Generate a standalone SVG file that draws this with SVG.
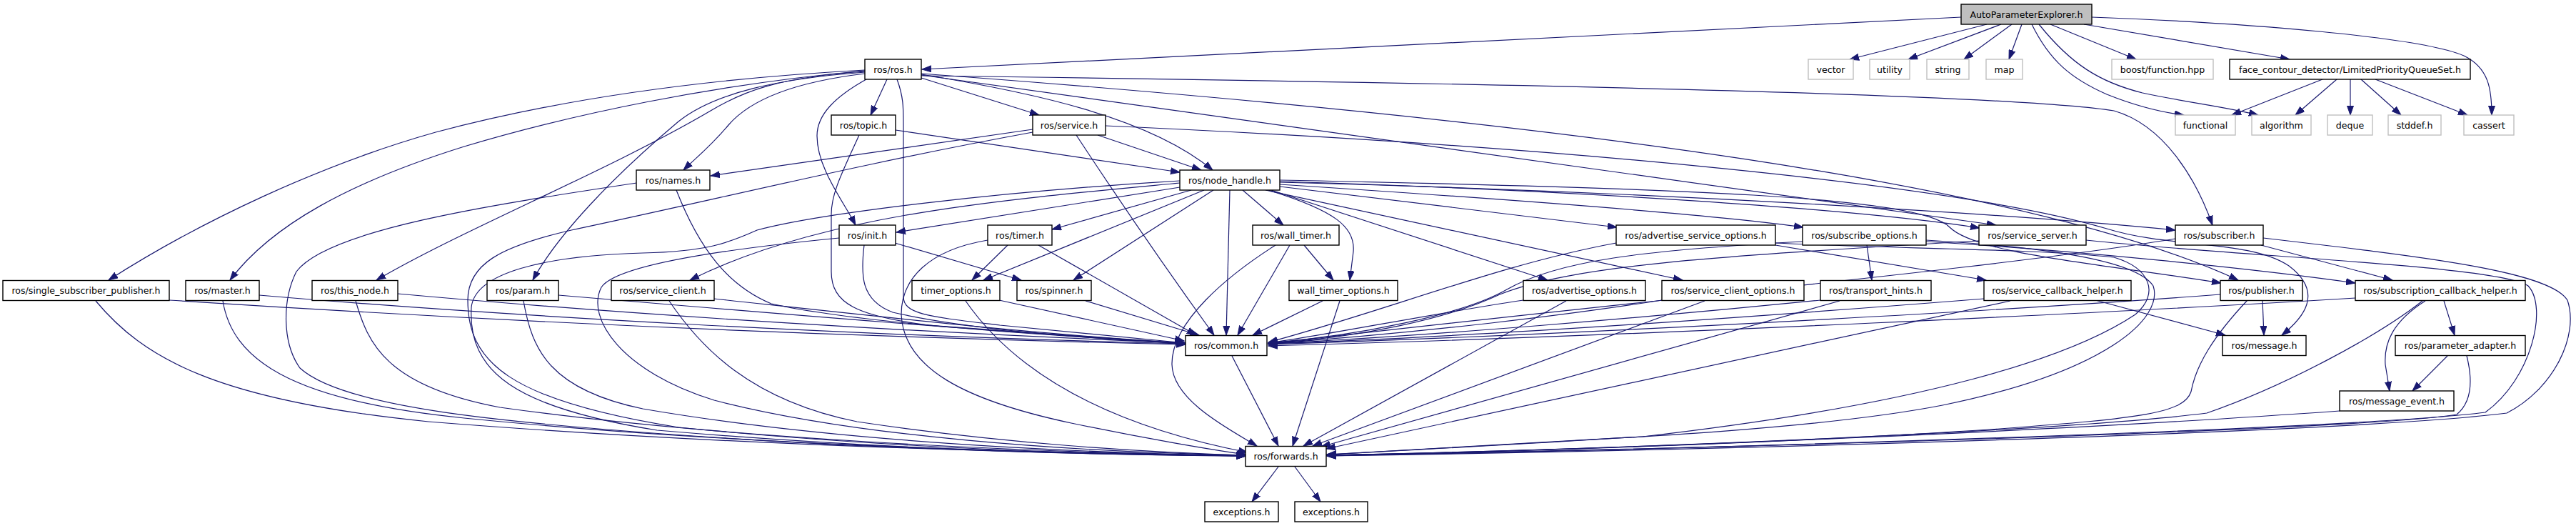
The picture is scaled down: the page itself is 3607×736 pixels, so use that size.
<svg xmlns="http://www.w3.org/2000/svg" width="3607" height="736" viewBox="0 0 3607 736">
<style>
.n rect{fill:#fff;stroke:#000;stroke-width:1.4}
.g rect{fill:#fff;stroke:#bfbfbf;stroke-width:1.4}
.r rect{fill:#bfbfbf;stroke:#000;stroke-width:1.4}
text{font-family:"DejaVu Sans",sans-serif;font-size:12.6px;text-anchor:middle;fill:#000}
#edges path{fill:none;stroke:#191970;stroke-width:1.2;marker-end:url(#a)}
</style>
<defs>
<marker id="a" markerUnits="userSpaceOnUse" markerWidth="14" markerHeight="10" viewBox="0 0 14 10" refX="13" refY="5" orient="auto">
<path d="M0,0.5 L13,5 L0,9.5 z" fill="#191970" stroke="#191970" stroke-width="1"/>
</marker>
</defs>
<rect x="0" y="0" width="3607" height="736" fill="#fff"/>
<g id="edges">
<path d="M2746,24 L1291,97"/>
<path d="M2782,34 L2590,83"/>
<path d="M2802,34 L2672,83"/>
<path d="M2817,34 L2750,83"/>
<path d="M2831,34 L2813,83"/>
<path d="M2871,34 L2991,83"/>
<path d="M2918,34 L3206,83"/>
<path d="M2929,24 C3150,32 3390,52 3450,78 C3485,95 3489,125 3489,161"/>
<path d="M2845,34 C2870,85 2900,110 2950,132 C2990,148 3025,157 3058,161"/>
<path d="M2855,34 C2900,90 2940,115 3000,130 C3060,143 3120,150 3162,161"/>
<path d="M3252,111 L3125,161"/>
<path d="M3272,111 L3214,161"/>
<path d="M3291,111 L3291,161"/>
<path d="M3306,111 L3362,161"/>
<path d="M3326,111 L3455,161"/>
<path d="M1242,111 L1219,161"/>
<path d="M1290,109 L1455,161"/>
<path d="M1290,104 C1450,130 1610,165 1698,238"/>
<path d="M1290,106 C2000,115 2800,130 2960,155 C3030,175 3075,250 3098,315"/>
<path d="M1290,103 C2200,170 2850,260 3134,392"/>
<path d="M1290,105 L2795,315"/>
<path d="M1256,111 C1265,135 1265,150 1265,175 L1265,415 C1265,440 1300,443 1400,455 L1660,480"/>
<path d="M1213,111 C1170,135 1144,160 1144,190 C1144,235 1180,280 1198,315"/>
<path d="M1211,103 C1110,115 1050,140 1020,175 C995,205 970,225 957,238"/>
<path d="M1211,101 C1090,110 1000,130 950,170 C855,250 780,330 746,392"/>
<path d="M1211,100 C1090,108 1040,128 995,155 C850,240 650,320 527,392"/>
<path d="M1211,98 C950,112 760,145 610,185 C450,230 280,310 152,392"/>
<path d="M1211,99 C1000,118 800,160 650,205 C490,255 380,315 322,392"/>
<path d="M1446,181 L995,246"/>
<path d="M1446,185 C1200,230 1000,280 800,322 C700,345 655,370 655,420 C655,505 710,560 950,598 C1250,628 1550,636 1744,638"/>
<path d="M1537,189 L1682,238"/>
<path d="M1507,189 C1580,300 1650,400 1700,469"/>
<path d="M1548,176 C2200,205 2750,260 2950,320 C3040,348 3150,335 3205,372 C3255,410 3225,445 3195,469"/>
<path d="M1254,182 L1652,241"/>
<path d="M1203,189 C1180,240 1164,270 1164,300 L1164,380 C1164,425 1200,442 1300,455 L1660,481"/>
<path d="M947,266 C980,350 1020,400 1080,425 C1200,452 1450,468 1660,481"/>
<path d="M891,256 C700,285 460,320 415,380 C395,420 395,480 420,515 C480,570 700,592 1000,612 C1300,632 1600,637 1744,638"/>
<path d="M1652,262 L1255,325"/>
<path d="M1668,266 L1473,321"/>
<path d="M1686,266 L1377,392"/>
<path d="M1699,266 L1503,392"/>
<path d="M1722,266 L1717,469"/>
<path d="M1740,266 L1797,315"/>
<path d="M1776,266 C1870,295 1898,318 1895,352 L1890,392"/>
<path d="M1780,266 L2167,392"/>
<path d="M1772,266 L2356,392"/>
<path d="M1792,261 L2264,318"/>
<path d="M1792,258 C2100,278 2400,300 2525,318"/>
<path d="M1792,254 C2200,266 2600,292 2772,319"/>
<path d="M1792,255 C2300,268 2800,298 3046,322"/>
<path d="M1792,252 C2350,263 2690,275 2730,318 C2768,356 2950,370 3110,396"/>
<path d="M1652,256 C1400,280 1150,300 966,392"/>
<path d="M1652,253 C1400,268 1150,298 1060,322 C1020,340 990,352 900,354 C760,358 665,382 660,430 C655,520 720,570 920,602 C1250,630 1550,637 1744,638"/>
<path d="M1253,340 L1430,392"/>
<path d="M1210,343 C1205,385 1205,420 1250,437 C1350,460 1500,472 1660,481"/>
<path d="M1175,333 C1000,350 862,372 842,402 C820,445 870,520 1000,560 C1200,612 1500,632 1744,637"/>
<path d="M1411,343 L1361,392"/>
<path d="M1454,343 L1675,469"/>
<path d="M1383,336 C1300,350 1262,390 1262,440 C1265,515 1350,560 1500,592 C1600,613 1700,630 1745,636"/>
<path d="M1826,343 L1867,392"/>
<path d="M1806,343 L1733,469"/>
<path d="M1786,343 C1720,385 1640,450 1641,510 C1642,560 1720,600 1760,624"/>
<path d="M237,420 C700,450 1200,472 1660,482"/>
<path d="M134,421 C200,500 300,560 600,590 C1000,622 1400,633 1744,638"/>
<path d="M363,413 C700,442 1200,470 1660,481"/>
<path d="M312,421 C325,500 400,560 650,585 C1000,620 1400,633 1744,638"/>
<path d="M557,411 C900,442 1300,466 1660,480"/>
<path d="M498,421 C515,480 540,540 700,570 C1000,612 1400,632 1744,638"/>
<path d="M782,413 C1100,440 1400,465 1660,480"/>
<path d="M733,421 C745,490 770,545 900,572 C1150,615 1450,632 1744,638"/>
<path d="M1000,418 C1250,445 1450,468 1660,480"/>
<path d="M937,421 C980,485 1050,560 1200,590 C1400,620 1600,633 1744,637"/>
<path d="M1399,420 L1658,477"/>
<path d="M1352,421 C1400,490 1500,585 1747,633"/>
<path d="M1520,421 L1679,469"/>
<path d="M1852,421 L1754,469"/>
<path d="M1876,421 L1810,624"/>
<path d="M2486,343 L2781,392"/>
<path d="M2263,340 C2100,370 1950,432 1776,479"/>
<path d="M2486,340 C2650,348 2850,348 2960,360 C3010,375 3025,410 2990,440 C2900,500 2700,565 2300,611 L1858,636"/>
<path d="M2614,343 L2621,392"/>
<path d="M2697,338 C2900,350 3150,375 3298,396"/>
<path d="M2524,338 C2300,350 2180,365 2110,405 C2050,440 1900,470 1776,480"/>
<path d="M2697,336 C2850,345 2990,362 3015,400 C3030,445 2950,520 2720,567 C2550,600 2300,612 1858,636"/>
<path d="M2771,337 C2400,358 2200,372 2100,412 C2030,445 1900,474 1776,480"/>
<path d="M2921,336 C3150,360 3500,372 3540,400 C3568,430 3545,530 3480,577 C3300,600 2400,628 1858,638"/>
<path d="M3166,343 L3350,392"/>
<path d="M3046,334 C2800,375 2300,420 1776,481"/>
<path d="M3169,333 C3400,360 3570,380 3595,420 C3612,470 3575,545 3510,578 C3300,605 2400,630 1858,638"/>
<path d="M2133,420 C2000,440 1850,470 1776,480"/>
<path d="M2193,421 L1825,624"/>
<path d="M2327,420 C2200,440 2000,465 1776,481"/>
<path d="M2387,421 L1838,624"/>
<path d="M2549,420 C2300,445 2000,470 1776,481"/>
<path d="M2576,421 L1850,625"/>
<path d="M2778,418 C2500,440 2100,470 1776,481"/>
<path d="M2815,421 L1857,628"/>
<path d="M2934,420 L3116,469"/>
<path d="M3168,420 L3170,469"/>
<path d="M3109,412 C2900,428 2300,465 1776,482"/>
<path d="M3147,420 C3100,470 3075,510 3068,548 C3058,578 3000,585 2800,600 C2500,620 2100,633 1858,637"/>
<path d="M3298,417 C3000,435 2300,470 1776,484"/>
<path d="M3392,421 C3330,470 3200,540 3090,578 C2900,602 2300,628 1858,637"/>
<path d="M3396,421 C3350,450 3338,480 3340,510 L3346,547"/>
<path d="M3422,421 L3437,469"/>
<path d="M3427,498 L3378,547"/>
<path d="M3454,498 C3462,530 3462,562 3440,580 C3300,602 2400,628 1858,637"/>
<path d="M3276,575 C2900,602 2300,628 1858,637"/>
<path d="M1725,498 L1790,624"/>
<path d="M1790,653 L1753,702"/>
<path d="M1813,653 L1849,702"/>
</g>
<g id="n_root" class="r"><rect x="2746" y="6" width="183" height="28"/><text x="2837.5" y="24.5">AutoParameterExplorer.h</text></g>
<g id="n_ros" class="n"><rect x="1211" y="83" width="79" height="28"/><text x="1250.5" y="101.5">ros/ros.h</text></g>
<g id="n_vector" class="g"><rect x="2532" y="83" width="63" height="28"/><text x="2563.5" y="101.5">vector</text></g>
<g id="n_utility" class="g"><rect x="2618" y="83" width="56" height="28"/><text x="2646" y="101.5">utility</text></g>
<g id="n_string" class="g"><rect x="2698" y="83" width="59" height="28"/><text x="2727.5" y="101.5">string</text></g>
<g id="n_map" class="g"><rect x="2781" y="83" width="51" height="28"/><text x="2806.5" y="101.5">map</text></g>
<g id="n_boost" class="g"><rect x="2957" y="83" width="142" height="28"/><text x="3028" y="101.5">boost/function.hpp</text></g>
<g id="n_face" class="n"><rect x="3122" y="83" width="337" height="28"/><text x="3290.5" y="101.5">face_contour_detector/LimitedPriorityQueueSet.h</text></g>
<g id="n_topic" class="n"><rect x="1164" y="161" width="90" height="28"/><text x="1209" y="179.5">ros/topic.h</text></g>
<g id="n_service" class="n"><rect x="1446" y="161" width="102" height="28"/><text x="1497" y="179.5">ros/service.h</text></g>
<g id="n_functional" class="g"><rect x="3046" y="161" width="84" height="28"/><text x="3088" y="179.5">functional</text></g>
<g id="n_algorithm" class="g"><rect x="3153" y="161" width="83" height="28"/><text x="3194.5" y="179.5">algorithm</text></g>
<g id="n_deque" class="g"><rect x="3259" y="161" width="63" height="28"/><text x="3290.5" y="179.5">deque</text></g>
<g id="n_stddef" class="g"><rect x="3344" y="161" width="74" height="28"/><text x="3381" y="179.5">stddef.h</text></g>
<g id="n_cassert" class="g"><rect x="3450" y="161" width="70" height="28"/><text x="3485" y="179.5">cassert</text></g>
<g id="n_names" class="n"><rect x="891" y="238" width="103" height="28"/><text x="942.5" y="256.5">ros/names.h</text></g>
<g id="n_node_handle" class="n"><rect x="1652" y="238" width="140" height="28"/><text x="1722" y="256.5">ros/node_handle.h</text></g>
<g id="n_init" class="n"><rect x="1175" y="315" width="79" height="28"/><text x="1214.5" y="333.5">ros/init.h</text></g>
<g id="n_timer" class="n"><rect x="1383" y="315" width="90" height="28"/><text x="1428" y="333.5">ros/timer.h</text></g>
<g id="n_wall_timer" class="n"><rect x="1754" y="315" width="121" height="28"/><text x="1814.5" y="333.5">ros/wall_timer.h</text></g>
<g id="n_aso" class="n"><rect x="2263" y="315" width="223" height="28"/><text x="2374.5" y="333.5">ros/advertise_service_options.h</text></g>
<g id="n_subopt" class="n"><rect x="2524" y="315" width="173" height="28"/><text x="2610.5" y="333.5">ros/subscribe_options.h</text></g>
<g id="n_ss" class="n"><rect x="2771" y="315" width="150" height="28"/><text x="2846" y="333.5">ros/service_server.h</text></g>
<g id="n_sub" class="n"><rect x="3046" y="315" width="123" height="28"/><text x="3107.5" y="333.5">ros/subscriber.h</text></g>
<g id="n_ssp" class="n"><rect x="4" y="392.5" width="233" height="28"/><text x="120.5" y="411">ros/single_subscriber_publisher.h</text></g>
<g id="n_master" class="n"><rect x="260" y="392.5" width="103" height="28"/><text x="311.5" y="411">ros/master.h</text></g>
<g id="n_this_node" class="n"><rect x="437" y="392.5" width="120" height="28"/><text x="497" y="411">ros/this_node.h</text></g>
<g id="n_param" class="n"><rect x="682" y="392.5" width="100" height="28"/><text x="732" y="411">ros/param.h</text></g>
<g id="n_sc" class="n"><rect x="856" y="392.5" width="144" height="28"/><text x="928" y="411">ros/service_client.h</text></g>
<g id="n_to" class="n"><rect x="1277" y="392.5" width="123" height="28"/><text x="1338.5" y="411">timer_options.h</text></g>
<g id="n_spinner" class="n"><rect x="1424" y="392.5" width="104" height="28"/><text x="1476" y="411">ros/spinner.h</text></g>
<g id="n_wto" class="n"><rect x="1805" y="392.5" width="152" height="28"/><text x="1881" y="411">wall_timer_options.h</text></g>
<g id="n_ao" class="n"><rect x="2133" y="392.5" width="171" height="28"/><text x="2218.5" y="411">ros/advertise_options.h</text></g>
<g id="n_sco" class="n"><rect x="2327" y="392.5" width="199" height="28"/><text x="2426.5" y="411">ros/service_client_options.h</text></g>
<g id="n_th" class="n"><rect x="2549" y="392.5" width="155" height="28"/><text x="2626.5" y="411">ros/transport_hints.h</text></g>
<g id="n_sch" class="n"><rect x="2778" y="392.5" width="206" height="28"/><text x="2881" y="411">ros/service_callback_helper.h</text></g>
<g id="n_pub" class="n"><rect x="3109" y="392.5" width="115" height="28"/><text x="3166.5" y="411">ros/publisher.h</text></g>
<g id="n_subch" class="n"><rect x="3298" y="392.5" width="238" height="28"/><text x="3417" y="411">ros/subscription_callback_helper.h</text></g>
<g id="n_common" class="n"><rect x="1660" y="469.5" width="114" height="28"/><text x="1717" y="488">ros/common.h</text></g>
<g id="n_message" class="n"><rect x="3112" y="469.5" width="117" height="28"/><text x="3170.5" y="488">ros/message.h</text></g>
<g id="n_pa" class="n"><rect x="3354" y="469.5" width="182" height="28"/><text x="3445" y="488">ros/parameter_adapter.h</text></g>
<g id="n_me" class="n"><rect x="3276" y="547" width="160" height="28"/><text x="3356" y="565.5">ros/message_event.h</text></g>
<g id="n_forwards" class="n"><rect x="1744" y="624.5" width="113" height="28"/><text x="1800.5" y="643">ros/forwards.h</text></g>
<g id="n_ex1" class="n"><rect x="1687" y="702" width="103" height="28"/><text x="1738.5" y="720.5">exceptions.h</text></g>
<g id="n_ex2" class="n"><rect x="1813" y="702" width="102" height="28"/><text x="1864" y="720.5">exceptions.h</text></g>
</svg>
